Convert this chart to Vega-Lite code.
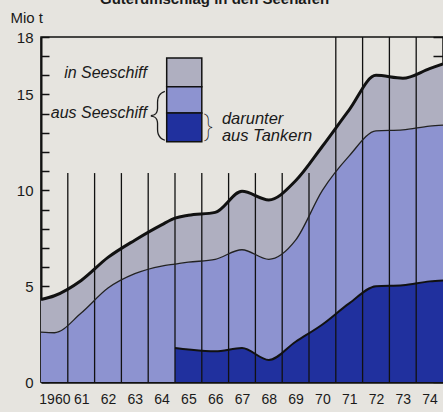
{
  "$schema": "https://vega.github.io/schema/vega-lite/v6.json",
  "width": 402,
  "height": 345,
  "autosize": {"type": "none"},
  "padding": {"left": 41, "top": 37, "right": 0, "bottom": 30},
  "background": "#e6e4df",
  "config": {
    "view": {"stroke": "#111111", "strokeWidth": 1.5},
    "font": "Liberation Sans",
    "axis": {"labelOverlap": false, "labelSeparation": 0},
    "axisX": {"tickCount": 15}
  },
  "datasets": {
    "series": [
      {"jahr": 1959.5, "gesamt": 4.3, "aus": 2.6, "tanker": null},
      {"jahr": 1960, "gesamt": 4.5, "aus": 2.57, "tanker": null},
      {"jahr": 1961, "gesamt": 5.3, "aus": 3.6, "tanker": null},
      {"jahr": 1962, "gesamt": 6.5, "aus": 4.9, "tanker": null},
      {"jahr": 1963, "gesamt": 7.4, "aus": 5.65, "tanker": null},
      {"jahr": 1964, "gesamt": 8.2, "aus": 6.05, "tanker": null},
      {"jahr": 1964.5, "gesamt": 8.55, "aus": 6.15, "tanker": 1.78},
      {"jahr": 1965, "gesamt": 8.7, "aus": 6.25, "tanker": 1.7},
      {"jahr": 1966, "gesamt": 8.85, "aus": 6.4, "tanker": 1.6},
      {"jahr": 1967, "gesamt": 9.95, "aus": 6.9, "tanker": 1.77},
      {"jahr": 1968, "gesamt": 9.5, "aus": 6.4, "tanker": 1.15},
      {"jahr": 1969, "gesamt": 10.5, "aus": 7.4, "tanker": 2.1},
      {"jahr": 1970, "gesamt": 12.3, "aus": 10.0, "tanker": 3.0},
      {"jahr": 1971, "gesamt": 14.2, "aus": 11.8, "tanker": 4.1},
      {"jahr": 1972, "gesamt": 16.0, "aus": 13.1, "tanker": 5.0},
      {"jahr": 1973, "gesamt": 15.85, "aus": 13.15, "tanker": 5.05},
      {"jahr": 1974, "gesamt": 16.35, "aus": 13.35, "tanker": 5.25},
      {"jahr": 1974.5, "gesamt": 16.6, "aus": 13.4, "tanker": 5.3}
    ],
    "gitter": [
      {"grenze": 1960.5, "oben": 10.9},
      {"grenze": 1961.5, "oben": 10.9},
      {"grenze": 1962.5, "oben": 10.9},
      {"grenze": 1963.5, "oben": 10.9},
      {"grenze": 1964.5, "oben": 10.9},
      {"grenze": 1965.5, "oben": 10.9},
      {"grenze": 1966.5, "oben": 10.9},
      {"grenze": 1967.5, "oben": 10.9},
      {"grenze": 1968.5, "oben": 10.9},
      {"grenze": 1969.5, "oben": 10.9},
      {"grenze": 1970.5, "oben": 18},
      {"grenze": 1971.5, "oben": 18},
      {"grenze": 1972.5, "oben": 18},
      {"grenze": 1973.5, "oben": 18}
    ],
    "legende": [
      {"x1": 1964.19, "x2": 1965.5, "y1": 15.4, "y2": 16.9, "art": "in Seeschiff"},
      {"x1": 1964.19, "x2": 1965.5, "y1": 14.03, "y2": 15.4, "art": "aus Seeschiff"},
      {"x1": 1964.19, "x2": 1965.5, "y1": 12.54, "y2": 14.03, "art": "aus Tankern"}
    ],
    "ueberschrift": [{"x": 1961.7, "y": 19.72, "t": "Güterumschlag in den Seehäfen"}],
    "texte_rechtsbuendig": [
      {"x": 1963.45, "y": 16.1, "t": "in Seeschiff"},
      {"x": 1963.45, "y": 14.05, "t": "aus Seeschiff"}
    ],
    "texte_links": [
      {"x": 1966.25, "y": 13.72, "t": "darunter"},
      {"x": 1966.25, "y": 12.85, "t": "aus Tankern"}
    ],
    "klammer_gross": [{"x": 1963.83, "y": 13.93, "t": "{"}],
    "klammer_klein": [{"x": 1965.75, "y": 13.3, "t": "}"}]
  },
  "resolve": {"axis": {"y": "independent"}},
  "layer": [
    {
      "data": {"name": "series"},
      "mark": {"type": "area", "interpolate": "monotone", "color": "#8d93d0"},
      "encoding": {
        "x": {
          "field": "jahr", "type": "quantitative",
          "scale": {"domain": [1959.5, 1974.5], "nice": false, "zero": false},
          "axis": {
            "orient": "bottom", "values": [1960, 1961, 1962, 1963, 1964, 1965, 1966, 1967, 1968, 1969, 1970, 1971, 1972, 1973, 1974],
            "tickCount": 15,
            "format": "d",
            "labelExpr": "datum.value == 1960 ? datum.label : substring(datum.label, 2)",
            "ticks": false, "grid": false, "title": null,
            "domainColor": "#111111", "domainWidth": 2.5,
            "labelPadding": 10, "labelFontSize": 14, "labelColor": "#1a1a1a",
            "labelFlush": false, "labelOverlap": false, "labelSeparation": 0
          }
        },
        "y": {
          "field": "aus", "type": "quantitative",
          "scale": {"domain": [0, 18], "nice": false},
          "axis": {
            "orient": "left",
            "values": [0, 1, 2, 3, 4, 5, 6, 7, 8, 9, 10, 11, 12, 13, 14, 15, 16, 17, 18],
            "labelExpr": "(datum.value % 5 == 0 || datum.value == 18) ? datum.label : ''",
            "tickSize": -8, "tickColor": "#111111", "tickWidth": 1.5,
            "domainColor": "#111111", "domainWidth": 2,
            "labelPadding": 16, "labelFontSize": 15, "labelColor": "#1a1a1a",
            "labelOverlap": false, "labelFlush": false, "grid": false,
            "title": "Mio t", "titleAngle": 0, "titleX": -31, "titleY": -20,
            "titleAlign": "left", "titleBaseline": "middle",
            "titleFontSize": 15, "titleFontWeight": "normal", "titleColor": "#1a1a1a"
          }
        },
        "y2": {"datum": 0}
      }
    },
    {
      "data": {"name": "series"},
      "transform": [{"filter": "datum.tanker != null"}],
      "mark": {"type": "area", "interpolate": "monotone", "color": "#20309e"},
      "encoding": {
        "x": {"field": "jahr", "type": "quantitative"},
        "y": {"field": "tanker", "type": "quantitative", "axis": null},
        "y2": {"datum": 0}
      }
    },
    {
      "data": {"name": "series"},
      "mark": {"type": "area", "interpolate": "monotone", "color": "#afafc0"},
      "encoding": {
        "x": {"field": "jahr", "type": "quantitative"},
        "y": {"field": "gesamt", "type": "quantitative", "axis": null},
        "y2": {"field": "aus"}
      }
    },
    {
      "data": {"name": "gitter"},
      "mark": {"type": "rule", "color": "#111111", "strokeWidth": 1.3},
      "encoding": {
        "x": {"field": "grenze", "type": "quantitative"},
        "y": {"field": "oben", "type": "quantitative", "axis": null},
        "y2": {"datum": 0}
      }
    },
    {
      "data": {"name": "series"},
      "transform": [{"filter": "datum.tanker != null"}],
      "mark": {"type": "line", "interpolate": "monotone", "color": "#111111", "strokeWidth": 2},
      "encoding": {
        "x": {"field": "jahr", "type": "quantitative"},
        "y": {"field": "tanker", "type": "quantitative", "axis": null}
      }
    },
    {
      "data": {"name": "series"},
      "mark": {"type": "line", "interpolate": "monotone", "color": "#222222", "strokeWidth": 1.3},
      "encoding": {
        "x": {"field": "jahr", "type": "quantitative"},
        "y": {"field": "aus", "type": "quantitative", "axis": null}
      }
    },
    {
      "data": {"name": "series"},
      "mark": {"type": "line", "interpolate": "monotone", "color": "#111111", "strokeWidth": 3},
      "encoding": {
        "x": {"field": "jahr", "type": "quantitative"},
        "y": {
          "field": "gesamt", "type": "quantitative",
          "axis": {
            "orient": "right",
            "values": [0, 1, 2, 3, 4, 5, 6, 7, 8, 9, 10, 11, 12, 13, 14, 15, 16, 17, 18],
            "labels": false, "domain": false, "grid": false, "title": null,
            "tickSize": -10, "tickColor": "#111111", "tickWidth": 1.5
          }
        }
      }
    },
    {
      "data": {"name": "legende"},
      "mark": {"type": "rect", "stroke": "#111111", "strokeWidth": 1.5},
      "encoding": {
        "x": {"field": "x1", "type": "quantitative"},
        "x2": {"field": "x2"},
        "y": {"field": "y1", "type": "quantitative", "axis": null},
        "y2": {"field": "y2"},
        "color": {
          "field": "art", "type": "nominal", "legend": null,
          "scale": {"domain": ["in Seeschiff", "aus Seeschiff", "aus Tankern"], "range": ["#afafc0", "#8d93d0", "#20309e"]}
        }
      }
    },
    {
      "data": {"name": "ueberschrift"},
      "mark": {"type": "text", "align": "left", "baseline": "alphabetic", "fontSize": 15, "fontWeight": "bold", "color": "#1a1a1a"},
      "encoding": {
        "x": {"field": "x", "type": "quantitative"},
        "y": {"field": "y", "type": "quantitative", "axis": null},
        "text": {"field": "t"}
      }
    },
    {
      "data": {"name": "texte_rechtsbuendig"},
      "mark": {"type": "text", "align": "right", "baseline": "middle", "fontSize": 16, "fontStyle": "italic", "color": "#1a1a1a"},
      "encoding": {
        "x": {"field": "x", "type": "quantitative"},
        "y": {"field": "y", "type": "quantitative", "axis": null},
        "text": {"field": "t"}
      }
    },
    {
      "data": {"name": "texte_links"},
      "mark": {"type": "text", "align": "left", "baseline": "middle", "fontSize": 16.5, "fontStyle": "italic", "color": "#1a1a1a"},
      "encoding": {
        "x": {"field": "x", "type": "quantitative"},
        "y": {"field": "y", "type": "quantitative", "axis": null},
        "text": {"field": "t"}
      }
    },
    {
      "data": {"name": "klammer_gross"},
      "mark": {"type": "text", "align": "center", "baseline": "middle", "fontSize": 50, "font": "Roboto", "fontWeight": 100, "color": "#1a1a1a"},
      "encoding": {
        "x": {"field": "x", "type": "quantitative"},
        "y": {"field": "y", "type": "quantitative", "axis": null},
        "text": {"field": "t"}
      }
    },
    {
      "data": {"name": "klammer_klein"},
      "mark": {"type": "text", "align": "center", "baseline": "middle", "fontSize": 28, "font": "Roboto", "fontWeight": 100, "color": "#1a1a1a"},
      "encoding": {
        "x": {"field": "x", "type": "quantitative"},
        "y": {"field": "y", "type": "quantitative", "axis": null},
        "text": {"field": "t"}
      }
    }
  ]
}
